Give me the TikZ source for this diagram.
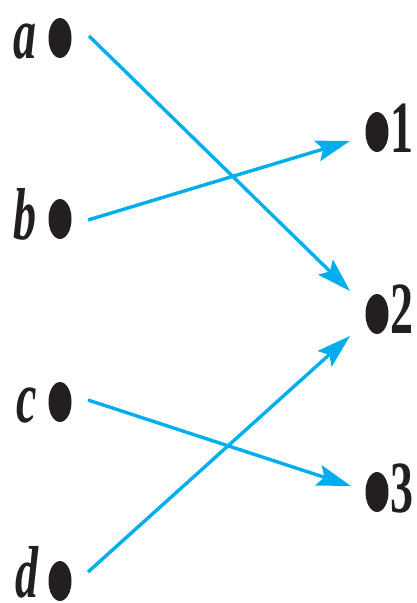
\documentclass[tikz,border=0pt]{standalone}
\usepackage{fontspec}
\setmainfont{Liberation Serif}
\usetikzlibrary{arrows.meta,calc,shapes.geometric}
\definecolor{dotblack}{HTML}{231F20}
\definecolor{arrowblue}{HTML}{00AEEF}
\begin{document}
\begin{tikzpicture}[x=1pt,y=-1pt,
  dotnode/.style={ellipse,fill=dotblack,minimum width=23pt,minimum height=40pt,inner sep=0pt},
  lbl/.style={inner sep=0pt,text=dotblack,font=\fontsize{46}{54}\selectfont\bfseries},
  arr/.style={draw=arrowblue,line width=3.4pt,-{Stealth[length=34pt,width=21pt,inset=6pt]}}]
\useasboundingbox (0,0) rectangle (416,603);
% left dots
\node[dotnode] (a) at (60,38) {};
\node[dotnode] (b) at (60,219) {};
\node[dotnode] (c) at (60,402) {};
\node[dotnode] (d) at (60,581) {};
% right dots
\node[dotnode] (n1) at (377,132) {};
\node[dotnode] (n2) at (377,314) {};
\node[dotnode] (n3) at (377,492) {};
% labels
\node[lbl,anchor=base east] (la) at (37,58) {\scalebox{1}[1.6]{\itshape a}};
\node[lbl,anchor=base east] (lb) at (37,239) {\scalebox{1}[1.6]{\itshape b}};
\node[lbl,anchor=base east] (lc) at (37,422) {\scalebox{1}[1.6]{\itshape c}};
\node[lbl,anchor=base east] (ld) at (39,597) {\scalebox{1}[1.6]{\itshape d}};
\node[lbl,anchor=base west] (l1) at (390,152) {\scalebox{1}[1.6]{1}};
\node[lbl,anchor=base west] (l2) at (390,333) {\scalebox{1}[1.6]{2}};
\node[lbl,anchor=base west] (l3) at (390,512) {\scalebox{1}[1.6]{3}};
% arrows
\draw[arr] ($(a)+(29,-2)$) -- ($(n2)+(-27,-23)$);
\draw[arr] ($(b)+(28,1)$) -- ($(n1)+(-27,9)$);
\draw[arr] ($(c)+(28,-2)$) -- ($(n3)+(-26,-6)$);
\draw[arr] ($(d)+(28,-9)$) -- ($(n2)+(-27,22)$);
\end{tikzpicture}
\end{document}
